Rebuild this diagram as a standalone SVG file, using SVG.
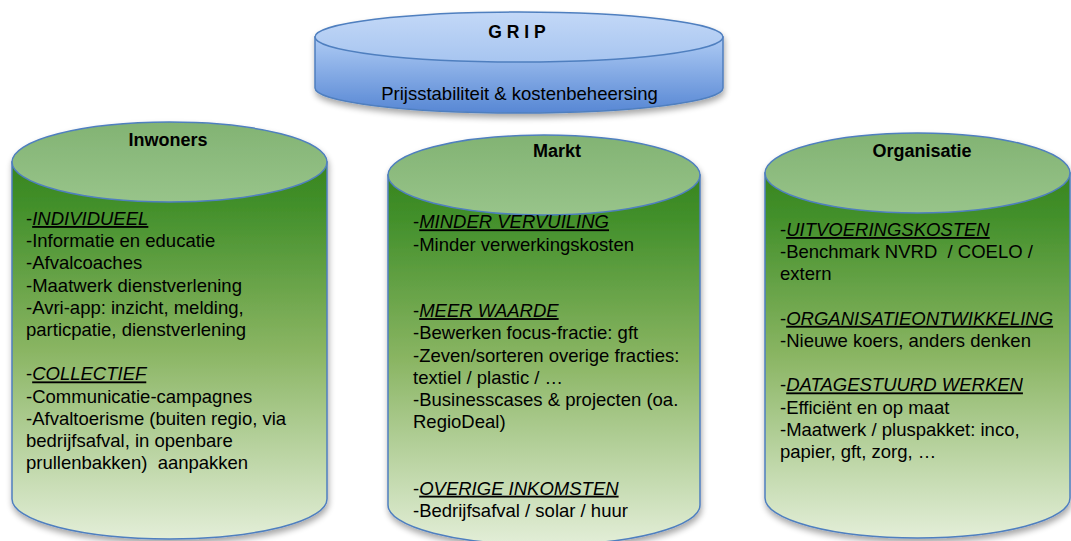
<svg xmlns="http://www.w3.org/2000/svg" width="1071" height="541" viewBox="0 0 1071 541">
<defs>
<linearGradient id="gBody" x1="0" y1="0" x2="0" y2="1">
<stop offset="0" stop-color="#37851f"/>
<stop offset="0.12" stop-color="#43902b"/>
<stop offset="0.5" stop-color="#8ab563"/>
<stop offset="1" stop-color="#e3eed8"/>
</linearGradient>
<linearGradient id="gTop" x1="0" y1="0" x2="0" y2="1">
<stop offset="0" stop-color="#82b373"/>
<stop offset="1" stop-color="#98c48a"/>
</linearGradient>
<linearGradient id="bBody" x1="0" y1="0" x2="0" y2="1">
<stop offset="0" stop-color="#aecbf4"/>
<stop offset="1" stop-color="#5787d4"/>
</linearGradient>
<linearGradient id="bTop" x1="0" y1="0" x2="0" y2="1">
<stop offset="0" stop-color="#c3d8f7"/>
<stop offset="1" stop-color="#a7c5f0"/>
</linearGradient>
<filter id="sh" x="-5%" y="-5%" width="110%" height="120%">
<feGaussianBlur in="SourceAlpha" stdDeviation="3"/>
<feOffset dx="1" dy="4" result="b"/>
<feComponentTransfer><feFuncA type="linear" slope="0.35"/></feComponentTransfer>
<feMerge><feMergeNode/><feMergeNode in="SourceGraphic"/></feMerge>
</filter>
</defs>
<style>
.st{stroke:#4f7fbf;stroke-width:1.5}
.t{font-family:"Liberation Sans",Arial,sans-serif;font-size:18.5px;fill:#000;white-space:pre}
.h{font-family:"Liberation Sans",Arial,sans-serif;font-size:18px;font-weight:bold;fill:#000;text-anchor:middle}
.u{font-style:italic;text-decoration:underline}
</style>
<rect width="1071" height="541" fill="#ffffff"/>

<g id="grip">
<g filter="url(#sh)">
<path class="st" fill="url(#bBody)" d="M315,37 L315,88 A204,25 0 0 0 723,88 L723,37 Z"/>
<ellipse class="st" fill="url(#bTop)" cx="519" cy="37" rx="204" ry="25"/>
</g>
<text class="h" x="517" y="38" style="font-size:17.5px">G R I P</text>
<text class="t" x="519.5" y="100" text-anchor="middle">Prijsstabiliteit &amp; kostenbeheersing</text>
</g>

<g id="inwoners">
<g filter="url(#sh)">
<path class="st" fill="url(#gBody)" d="M12,162 L12,499 A157.5,40 0 0 0 327,499 L327,162 Z"/>
<ellipse class="st" fill="url(#gTop)" cx="169.5" cy="162" rx="157.5" ry="40"/>
</g>
<text class="h" x="168" y="146">Inwoners</text>
<text class="t" x="26" y="225">-<tspan class="u">INDIVIDUEEL</tspan></text>
<text class="t" x="26" y="247.2">-Informatie en educatie</text>
<text class="t" x="26" y="269.4">-Afvalcoaches</text>
<text class="t" x="26" y="291.6">-Maatwerk dienstverlening</text>
<text class="t" x="26" y="313.8">-Avri-app: inzicht, melding,</text>
<text class="t" x="26" y="336">particpatie, dienstverlening</text>
<text class="t" x="26" y="380.4">-<tspan class="u">COLLECTIEF</tspan></text>
<text class="t" x="26" y="402.6">-Communicatie-campagnes</text>
<text class="t" x="26" y="424.8">-Afvaltoerisme (buiten regio, via</text>
<text class="t" x="26" y="447">bedrijfsafval, in openbare</text>
<text class="t" x="26" y="469.2">prullenbakken)  aanpakken</text>
</g>

<g id="markt">
<g filter="url(#sh)">
<path class="st" fill="url(#gBody)" d="M388,175 L388,505 A156,40 0 0 0 700,505 L700,175 Z"/>
<ellipse class="st" fill="url(#gTop)" cx="544" cy="175" rx="156" ry="40"/>
</g>
<text class="h" x="557" y="157">Markt</text>
<text class="t" x="413" y="228.3">-<tspan class="u">MINDER VERVUILING</tspan></text>
<text class="t" x="413" y="250.5">-Minder verwerkingskosten</text>
<text class="t" x="413" y="317.1">-<tspan class="u">MEER WAARDE</tspan></text>
<text class="t" x="413" y="339.3">-Bewerken focus-fractie: gft</text>
<text class="t" x="413" y="361.5">-Zeven/sorteren overige fracties:</text>
<text class="t" x="413" y="383.7">textiel / plastic / …</text>
<text class="t" x="413" y="405.9">-Businesscases &amp; projecten (oa.</text>
<text class="t" x="413" y="428.1">RegioDeal)</text>
<text class="t" x="413" y="494.7">-<tspan class="u">OVERIGE INKOMSTEN</tspan></text>
<text class="t" x="413" y="516.9">-Bedrijfsafval / solar / huur</text>
</g>

<g id="organisatie">
<g filter="url(#sh)">
<path class="st" fill="url(#gBody)" d="M765,173 L765,498 A152.5,40 0 0 0 1070,498 L1070,173 Z"/>
<ellipse class="st" fill="url(#gTop)" cx="917.5" cy="173" rx="152.5" ry="40"/>
</g>
<text class="h" x="922" y="157">Organisatie</text>
<text class="t" x="780" y="236">-<tspan class="u">UITVOERINGSKOSTEN</tspan></text>
<text class="t" x="780" y="258.2">-Benchmark NVRD  / COELO /</text>
<text class="t" x="780" y="280.4">extern</text>
<text class="t" x="780" y="324.8">-<tspan class="u">ORGANISATIEONTWIKKELING</tspan></text>
<text class="t" x="780" y="347">-Nieuwe koers, anders denken</text>
<text class="t" x="780" y="391.4">-<tspan class="u">DATAGESTUURD WERKEN</tspan></text>
<text class="t" x="780" y="413.6">-Efficiënt en op maat</text>
<text class="t" x="780" y="435.8">-Maatwerk / pluspakket: inco,</text>
<text class="t" x="780" y="458">papier, gft, zorg, …</text>
</g>

<g id="connectors"/>
</svg>
